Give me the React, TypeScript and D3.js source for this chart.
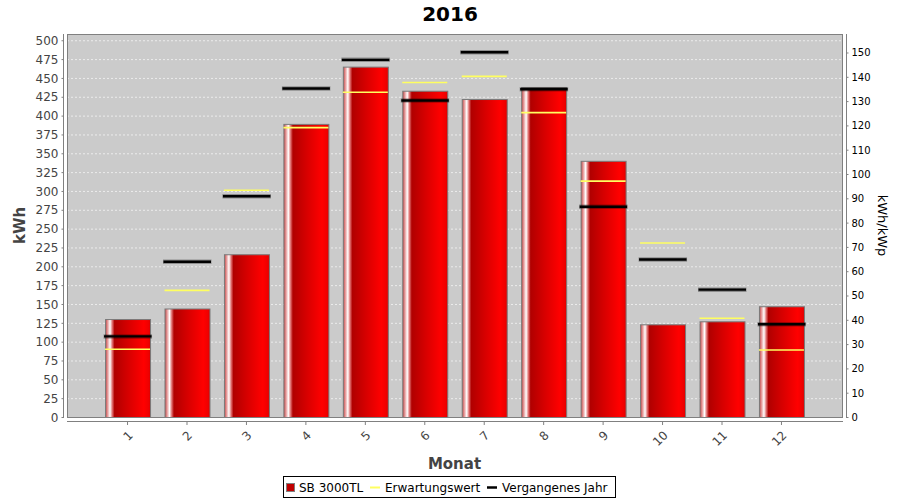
import * as d3 from 'd3';

// Monthly yield, expected value and last year's value (kWh)
const months = ['1', '2', '3', '4', '5', '6', '7', '8', '9', '10', '11', '12'];
const production = [130, 144, 216, 389, 465, 433, 422, 438, 340, 123, 127, 147];
const expected = [90, 168, 301, 384, 431, 444, 452, 404, 313, 231, 131, 89];
const previousYear = [107, 206, 293, 436, 474, 420, 484, 435, 279, 209, 169, 123];
const leftTicks = d3.range(0, 501, 25);
const rightTicks = d3.range(0, 151, 10);
const KWP = 3.225;

const W = 900;
const H = 500;
const PLOT = { left: 67, right: 842, top: 34, bottom: 417 };
const FONT = '"DejaVu Sans", Verdana, sans-serif';

export default function App() {
  const yMax = 508.3;
  const y = d3.scaleLinear().domain([0, yMax]).range([PLOT.bottom, PLOT.top]);
  const yRight = d3.scaleLinear().domain([0, yMax / KWP]).range([PLOT.bottom, PLOT.top]);
  const x = d3
    .scaleBand<string>()
    .domain(months)
    .range([PLOT.left, PLOT.right])
    .paddingInner(0.243)
    .paddingOuter(0.64);
  const bw = x.bandwidth();

  return (
    <svg
      width={W}
      height={H}
      style={{ position: 'fixed', top: 0, left: 0, display: 'block', background: '#fff' }}
      fontFamily={FONT}
    >
      <defs>
        <linearGradient id="barGrad" x1="0" x2="1" y1="0" y2="0">
          <stop offset="0%" stopColor="#c04848" />
          <stop offset="5%" stopColor="#e8a0a0" />
          <stop offset="10%" stopColor="#ffffff" />
          <stop offset="15%" stopColor="#e07070" />
          <stop offset="20%" stopColor="#b00000" />
          <stop offset="50%" stopColor="#d60000" />
          <stop offset="85%" stopColor="#ff0000" />
          <stop offset="95%" stopColor="#f00000" />
          <stop offset="100%" stopColor="#dc0000" />
        </linearGradient>
      </defs>

      {/* Title */}
      <text x={W / 2} y={21} textAnchor="middle" fontSize={20} fontWeight="bold" fill="#000">
        2016
      </text>

      {/* Plot background */}
      <rect
        x={PLOT.left}
        y={PLOT.top}
        width={PLOT.right - PLOT.left}
        height={PLOT.bottom - PLOT.top}
        fill="#cbcbcb"
      />

      {/* Gridlines */}
      {leftTicks.map(t => (
        <line
          key={`g${t}`}
          x1={PLOT.left}
          x2={PLOT.right}
          y1={y(t) + 0.5}
          y2={y(t) + 0.5}
          stroke="#ececec"
          strokeWidth={1}
          strokeDasharray="2,2"
        />
      ))}

      {/* Bars */}
      {production.map((v, i) => (
        <rect
          key={`b${i}`}
          x={(x(months[i]) ?? 0) + 0.5}
          y={y(v) + 0.5}
          width={bw}
          height={PLOT.bottom - y(v)}
          fill="url(#barGrad)"
          stroke="#7a7a7a"
          strokeWidth={1}
        />
      ))}

      {/* Expected value markers */}
      {expected.map((v, i) => (
        <line
          key={`e${i}`}
          x1={x(months[i]) ?? 0}
          x2={(x(months[i]) ?? 0) + bw}
          y1={y(v)}
          y2={y(v)}
          stroke="#ffff60"
          strokeWidth={1.6}
        />
      ))}

      {/* Previous year markers */}
      {previousYear.map((v, i) => {
        const x0 = (x(months[i]) ?? 0) - 1.5;
        const x1 = (x(months[i]) ?? 0) + bw + 2;
        return (
          <g key={`p${i}`}>
            <line x1={x0} x2={x1} y1={y(v)} y2={y(v)} stroke="#000" strokeOpacity={0.3} strokeWidth={4.5} />
            <line x1={x0 + 0.5} x2={x1 - 0.5} y1={y(v)} y2={y(v)} stroke="#000" strokeWidth={2.4} />
          </g>
        );
      })}

      {/* Plot border */}
      <rect
        x={PLOT.left + 0.5}
        y={PLOT.top + 0.5}
        width={PLOT.right - PLOT.left}
        height={PLOT.bottom - PLOT.top}
        fill="none"
        stroke="#808080"
        strokeWidth={1}
      />

      {/* Left axis */}
      <line x1={63.5} x2={63.5} y1={PLOT.top} y2={PLOT.bottom + 1} stroke="#808080" />
      {leftTicks.map(t => (
        <g key={`l${t}`} transform={`translate(63.5,${y(t) + 0.5})`}>
          <line x1={-2} x2={0} stroke="#808080" />
          <text x={-5} dy="0.35em" textAnchor="end" fontSize={12} fill="#444">
            {t}
          </text>
        </g>
      ))}
      <text
        transform={`translate(25,${(PLOT.top + PLOT.bottom) / 2}) rotate(-90)`}
        textAnchor="middle"
        fontSize={15}
        fontWeight="bold"
        fill="#444"
      >
        kWh
      </text>

      {/* Right axis */}
      <line x1={846.5} x2={846.5} y1={PLOT.top} y2={PLOT.bottom + 1} stroke="#808080" />
      {rightTicks.map(t => (
        <g key={`r${t}`} transform={`translate(846.5,${yRight(t) + 0.5})`}>
          <line x1={0} x2={2} stroke="#808080" />
          <text x={5} dy="0.35em" textAnchor="start" fontSize={10} fill="#000">
            {t}
          </text>
        </g>
      ))}
      <text
        transform={`translate(878,${(PLOT.top + PLOT.bottom) / 2}) rotate(90)`}
        textAnchor="middle"
        fontSize={13}
        fill="#000"
      >
        kWh/kWp
      </text>

      {/* Bottom axis */}
      <line x1={PLOT.left} x2={PLOT.right + 1} y1={421.5} y2={421.5} stroke="#808080" />
      {months.map(m => {
        const cx = (x(m) ?? 0) + bw / 2;
        return (
          <g key={`m${m}`}>
            <line x1={cx} x2={cx} y1={421.5} y2={425} stroke="#808080" />
            <text
              transform={`translate(${cx + 6},436) rotate(-45)`}
              textAnchor="end"
              fontSize={12}
              fill="#444"
            >
              {m}
            </text>
          </g>
        );
      })}
      <text
        x={(PLOT.left + PLOT.right) / 2}
        y={469}
        textAnchor="middle"
        fontSize={15}
        fontWeight="bold"
        fill="#444"
      >
        Monat
      </text>

      {/* Legend */}
      <g>
        <rect x={283.5} y={476.5} width={332} height={21} fill="#fff" stroke="#000" />
        <rect x={286.5} y={483.5} width={8} height={8} fill="#c00000" stroke="#808080" />
        <text x={299} y={492} fontSize={12} fill="#000">
          SB 3000TL
        </text>
        <line x1={370} x2={380} y1={487.5} y2={487.5} stroke="#ffff60" strokeWidth={2} />
        <text x={385} y={492} fontSize={12} fill="#000">
          Erwartungswert
        </text>
        <line x1={487} x2={497} y1={487.5} y2={487.5} stroke="#000" strokeWidth={2.5} />
        <text x={502} y={492} fontSize={12} fill="#000">
          Vergangenes Jahr
        </text>
      </g>
    </svg>
  );
}
